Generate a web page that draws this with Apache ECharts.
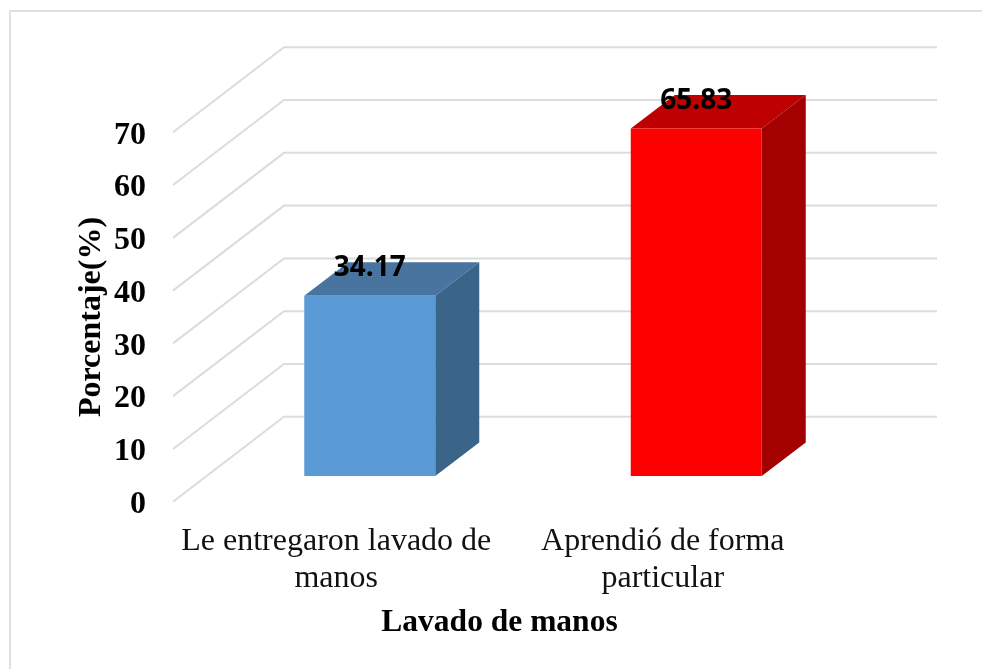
<!DOCTYPE html>
<html>
<head>
<meta charset="utf-8">
<style>
html, body { margin: 0; padding: 0; background: #fff; }
#main { width: 982px; height: 669px; }
</style>
<script src="https://cdn.jsdelivr.net/npm/echarts@6/dist/echarts.min.js"></script>
</head>
<body>
<div id="main"></div>
<script>
const categories = ['Le entregaron lavado de\nmanos', 'Aprendió de forma\nparticular'];
const values = [34.17, 65.83];
const labels = ['34.17', '65.83'];
const frontColors = ['#5b9bd5', '#ff0000'];
const topColors = ['#49749f', '#bf0000'];
const sideColors = ['#3a6488', '#a30000'];
const ticks = [0, 10, 20, 30, 40, 50, 60, 70];

// depth of the floor and of the bars, in pixels
const wallDx = 111, wallDy = -85;
const barDx = 44, barDy = -33.5;
const barOffX = 33.5, barOffY = -25.7;
const barW = 131;

const serif = '"Liberation Serif", serif';

const chart = echarts.init(document.getElementById('main'));

function renderWall (params, api) {
  const y = api.coord([0, api.value(0)])[1];
  const x = params.coordSys.x;
  const rightEdge = x + params.coordSys.width + wallDx;
  return {
    type: 'polyline',
    silent: true,
    shape: { points: [[x, y], [x + wallDx, y + wallDy], [rightEdge, y + wallDy]] },
    style: { stroke: '#dcdcdc', lineWidth: 2, fill: null }
  };
}

function renderBar (params, api) {
  const i = params.dataIndex;
  const c = api.coord([i, api.value(1)]);
  const z = api.coord([i, 0]);
  const x0 = c[0] + barOffX - barW / 2;
  const x1 = x0 + barW;
  const top = c[1] + barOffY;
  const bot = z[1] + barOffY;
  return {
    type: 'group',
    children: [
      {
        type: 'polygon',
        shape: { points: [[x0, top], [x1, top], [x1 + barDx, top + barDy], [x0 + barDx, top + barDy]] },
        style: { fill: topColors[i] }
      },
      {
        type: 'polygon',
        shape: { points: [[x1, top], [x1 + barDx, top + barDy], [x1 + barDx, bot + barDy], [x1, bot]] },
        style: { fill: sideColors[i] }
      },
      {
        type: 'rect',
        shape: { x: x0, y: top, width: barW, height: bot - top },
        style: { fill: frontColors[i] }
      },
      {
        type: 'text',
        x: x0 + barW / 2,
        y: top - 28,
        style: {
          text: labels[i],
          fill: '#000',
          font: 'bold 28px "Open Sans", sans-serif',
          align: 'center',
          verticalAlign: 'middle'
        }
      }
    ]
  };
}

const option = {
  animation: false,
  backgroundColor: '#fff',
  graphic: [
    {
      type: 'polyline',
      silent: true,
      shape: { points: [[10, 669], [10, 11], [982, 11]] },
      style: { stroke: '#e0e0e0', lineWidth: 2, fill: null }
    }
  ],
  grid: { left: 173, top: 132.3, width: 653, height: 369.4 },
  xAxis: {
    type: 'category',
    data: categories,
    axisLine: { show: false },
    axisTick: { show: false },
    axisLabel: {
      color: '#111',
      fontFamily: serif,
      fontSize: 32,
      lineHeight: 37,
      margin: 21,
      interval: 0
    },
    name: 'Lavado de manos',
    nameLocation: 'middle',
    nameGap: 105,
    nameTextStyle: { color: '#000', fontFamily: serif, fontWeight: 'bold', fontSize: 31.5 }
  },
  yAxis: {
    type: 'value',
    min: 0,
    max: 70,
    interval: 10,
    axisLine: { show: false },
    axisTick: { show: false },
    splitLine: { show: false },
    axisLabel: {
      margin: 27,
      formatter: '{n|{value}}',
      rich: {
        n: {
          color: '#000',
          fontFamily: serif,
          fontWeight: 'bold',
          fontSize: 32,
          padding: [6, 0, 0, 0]
        }
      }
    },
    name: 'Porcentaje(%)',
    nameLocation: 'middle',
    nameRotate: 90,
    nameGap: 65,
    nameMoveOverlap: false,
    nameTextStyle: { color: '#000', fontFamily: serif, fontWeight: 'bold', fontSize: 32 }
  },
  series: [
    {
      type: 'custom',
      renderItem: renderWall,
      data: ticks.map(t => [t]),
      encode: { y: 0 },
      z: 1
    },
    {
      type: 'custom',
      renderItem: renderBar,
      data: values.map((v, i) => [i, v]),
      encode: { x: 0, y: 1 },
      z: 2
    }
  ]
};

chart.setOption(option);
</script>
</body>
</html>
